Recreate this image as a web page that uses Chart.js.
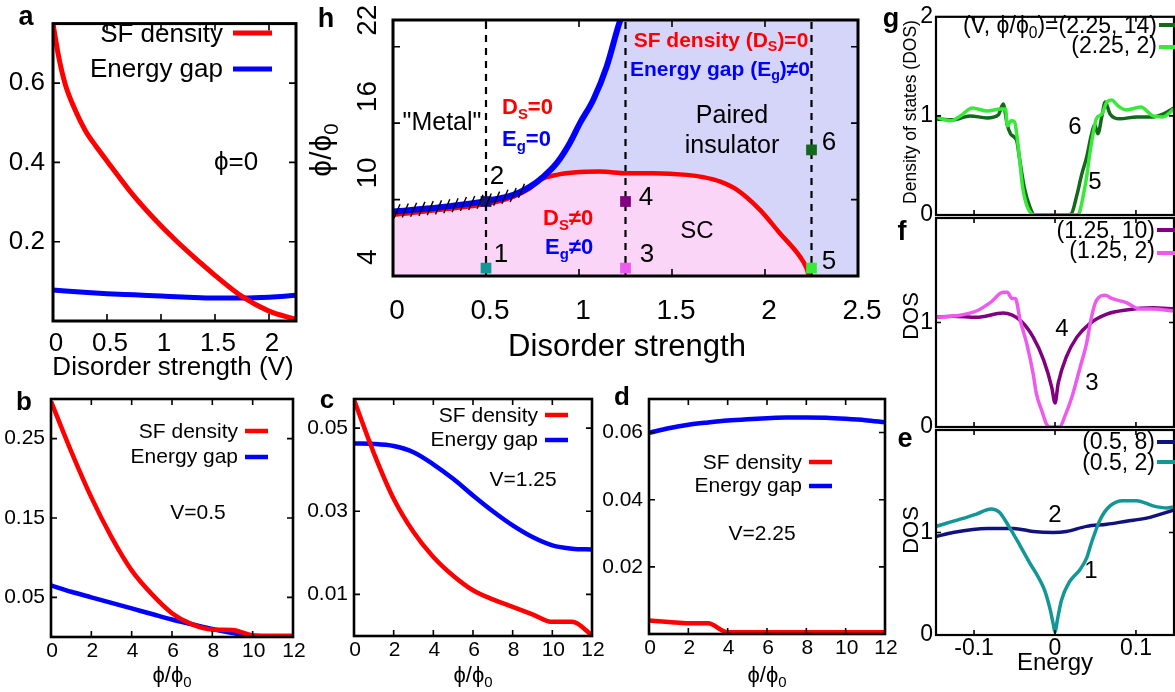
<!DOCTYPE html>
<html><head><meta charset="utf-8">
<script src="https://cdn.jsdelivr.net/npm/chart.js@4.4.1/dist/chart.umd.min.js"></script>
<style>
html,body{margin:0;padding:0;background:#fff;width:1175px;height:692px;overflow:hidden}
#wrap{position:relative;width:1175px;height:692px;background:#fff}
canvas{position:absolute;left:0;top:0}
</style></head>
<body><div id="wrap"></div>
<script>
// ================= DATA =================
// Panel a: phi = 0, vs disorder strength V
const aSFV   = [0, 0.05, 0.11, 0.2, 0.3, 0.4, 0.51, 0.75, 1.0, 1.15, 1.36, 1.5, 1.76, 2.0, 2.25];
const aSF    = [0.75, 0.67, 0.60, 0.535, 0.48, 0.44, 0.40, 0.315, 0.24, 0.20, 0.148, 0.115, 0.06, 0.025, 0.004];
const aGapV  = [0, 0.25, 0.5, 0.75, 1.0, 1.25, 1.5, 1.75, 2.0, 2.25];
const aGap   = [0.078, 0.073, 0.069, 0.066, 0.063, 0.060, 0.058, 0.058, 0.060, 0.065];
const aXTicks = [0, 0.5, 1, 1.5, 2];
const aXLabels = ["0", "0.5", "1", "1.5", "2"];
const aYTicks = [0.2, 0.4, 0.6];
const aYLabels = ["0.2", "0.4", "0.6"];

// Panels b, c, d: vs phi/phi0
const phi = [0, 1, 2, 3, 4, 5, 6, 7, 8, 9, 10, 11, 12];
const bSF  = [0.297, 0.234, 0.176, 0.126, 0.084, 0.054, 0.030, 0.016, 0.0095, 0.0088, 0.002, 0.0012, 0.0012];
const bGap = [0.065, 0.057, 0.050, 0.043, 0.036, 0.029, 0.022, 0.016, 0.010, 0.005, 0.0015, 0.0012, 0.0012];
const cSF  = [0.0568, 0.044, 0.033, 0.025, 0.019, 0.0145, 0.011, 0.0088, 0.007, 0.0052, 0.0034, 0.0034, 0.0002];
const cGap = [0.0463, 0.0462, 0.0457, 0.0442, 0.0413, 0.0378, 0.0338, 0.0300, 0.0266, 0.0238, 0.0218, 0.0210, 0.0208];
const dSF  = [0.0040, 0.0036, 0.0032, 0.0032, 0.0005, 0.0005, 0.0005, 0.0005, 0.0005, 0.0005, 0.0005, 0.0005, 0.0005];
const dGap = [0.0599, 0.0613, 0.0623, 0.0630, 0.0636, 0.0640, 0.0643, 0.0645, 0.0645, 0.0644, 0.0641, 0.0637, 0.0631];
const phiTicks = [0, 2, 4, 6, 8, 10, 12];
const phiLabels = ["0", "2", "4", "6", "8", "10", "12"];
const bYTicks = [0.05, 0.15, 0.25]; const bYLabels = ["0.05", "0.15", "0.25"];
const cYTicks = [0.01, 0.03, 0.05]; const cYLabels = ["0.01", "0.03", "0.05"];
const dYTicks = [0.02, 0.04, 0.06]; const dYLabels = ["0.02", "0.04", "0.06"];

// Panel h: phase diagram
const hBlueV = [0, 0.253, 0.504, 0.647, 0.737, 0.808, 0.88, 0.95, 1.005, 1.077, 1.149, 1.211, 1.222];
const hBlue  = [9.06, 9.4, 9.9, 10.37, 11.02, 11.8, 12.86, 14.43, 16.0, 17.84, 20.45, 23.6, 24.1];
const hRedV  = [0, 0.25, 0.504, 0.647, 0.737, 0.79, 0.88, 0.97, 1.113, 1.256, 1.4, 1.58, 1.668, 1.76, 1.85, 1.973, 2.08, 2.188, 2.224, 2.236];
const hRed   = [8.8, 9.2, 9.66, 10.23, 10.9, 11.55, 11.94, 12.12, 12.2, 12.07, 12.07, 11.94, 11.76, 11.41, 10.76, 9.19, 7.36, 5.52, 4.6, 4.0];
const hCutV  = [0.5, 1.25, 2.25];
const hPtV   = [0.5, 0.5, 1.25, 1.25, 2.25, 2.25];
const hPtPhi = [4.62, 9.85, 4.62, 9.85, 4.62, 13.9];
const hPtLabels = ["1", "2", "3", "4", "5", "6"];
const hXTicks = [0, 0.5, 1, 1.5, 2, 2.5];
const hXLabels = ["0", "0.5", "1", "1.5", "2", "2.5"];
const hYTicks = [4, 10, 16, 22];
const hYLabels = ["4", "10", "16", "22"];

// Panels g, f, e: density of states vs energy
const g6E = [-0.147,-0.126,-0.105,-0.084,-0.070,-0.064,-0.059,-0.055,-0.051,-0.047,-0.044,-0.038,-0.031,-0.025,0.015,0.020,0.027,0.033,0.039,0.045,0.049,0.053,0.058,0.062,0.068,0.080,0.101,0.121,0.134,0.147];
const g6  = [0.97,0.96,1.0,0.98,1.01,1.12,0.91,0.82,0.79,0.74,0.58,0.28,0.08,0,0,0.01,0.2,0.41,0.58,0.81,0.91,0.82,1.0,1.14,1.02,0.97,0.99,0.99,1.02,1.08];
const g5E = [-0.147,-0.129,-0.117,-0.102,-0.084,-0.067,-0.061,-0.059,-0.054,-0.050,-0.047,-0.044,-0.040,-0.034,-0.025,0.027,0.030,0.035,0.039,0.043,0.047,0.051,0.058,0.064,0.070,0.078,0.088,0.106,0.121,0.133,0.147];
const g5  = [0.99,0.95,1.0,1.08,1.05,1.07,1.07,0.9,0.95,0.94,0.8,0.58,0.28,0.08,0,0,0.02,0.2,0.38,0.62,0.82,0.97,1.02,1.14,1.16,1.1,1.06,1.09,1.0,0.99,1.07];
const f4E = [-0.147,-0.126,-0.097,-0.064,-0.043,-0.027,-0.014,-0.004,0,0.004,0.014,0.027,0.043,0.064,0.088,0.121,0.147];
const f4  = [1.05,1.06,1.05,1.09,1.02,0.86,0.64,0.38,0.23,0.42,0.67,0.86,0.99,1.08,1.12,1.14,1.13];
const f3E = [-0.147,-0.117,-0.097,-0.080,-0.064,-0.059,-0.053,-0.049,-0.043,-0.035,-0.027,-0.023,-0.016,-0.010,-0.006,0.006,0.012,0.021,0.031,0.039,0.045,0.051,0.062,0.070,0.088,0.105,0.121,0.147];
const f3  = [1.05,1.07,1.11,1.19,1.29,1.29,1.23,1.23,1.02,0.8,0.51,0.32,0.15,0.02,0,0,0.1,0.29,0.57,0.8,1.05,1.21,1.26,1.23,1.19,1.13,1.13,1.11];
const e2E = [-0.147,-0.126,-0.084,-0.051,-0.027,-0.002,0.014,0.039,0.064,0.088,0.113,0.147];
const e2  = [0.96,1.0,1.04,1.04,1.01,1.0,1.01,1.06,1.08,1.11,1.14,1.22];
const e1E = [-0.147,-0.117,-0.097,-0.079,-0.069,-0.057,-0.043,-0.031,-0.021,-0.013,-0.006,-0.002,0,0.003,0.008,0.018,0.031,0.039,0.045,0.056,0.068,0.084,0.101,0.121,0.138,0.147];
const e1  = [1.06,1.13,1.18,1.23,1.2,1.06,0.87,0.70,0.57,0.44,0.25,0.10,0.03,0.15,0.34,0.52,0.64,0.75,0.9,1.13,1.26,1.31,1.31,1.26,1.24,1.25];
const eXTicks = [-0.1, 0, 0.1];
const eXLabels = ["-0.1", "0", "0.1"];
const dosYTicks = [0, 1, 2];
const dosYLabels = ["0", "1", "2"];

// ================= HELPERS =================
const FONT = '"Liberation Sans", Arial, Helvetica, sans-serif';
const W = 1175, H = 692;
const RED = '#ff0000', BLUE = '#0000ff';
const C1 = '#139696', C2 = '#12127e', C3 = '#ee5aee', C4 = '#800080', C5 = '#3ae83a', C6 = '#13681a';
const PINK = '#fbd5f8', LAV = '#d5d5fa';
const wrap = document.getElementById('wrap');

function pts(xs, ys) { return xs.map((x, i) => ({ x: x, y: ys[i] })); }
function segs(str) {
  const out = []; const re = /_\{([^}]*)\}/g; let last = 0, m;
  while ((m = re.exec(str))) { if (m.index > last) out.push([str.slice(last, m.index), 0]); out.push([m[1], 1]); last = re.lastIndex; }
  if (last < str.length) out.push([str.slice(last), 0]);
  return out;
}
function txt(ctx, str, x, y, o) {
  o = o || {};
  const size = o.size || 20, wt = o.bold ? 'bold ' : '', align = o.align || 'center';
  const parts = segs(str);
  ctx.save(); ctx.translate(x, y); if (o.rot) ctx.rotate(o.rot);
  ctx.fillStyle = o.color || '#000'; ctx.textBaseline = 'middle'; ctx.textAlign = 'left';
  const ws = []; let w = 0;
  parts.forEach(([t, s]) => { ctx.font = wt + (s ? size * 0.68 : size) + 'px ' + FONT; const m = ctx.measureText(t).width; ws.push(m); w += m; });
  let cx = align === 'left' ? 0 : align === 'right' ? -w : -w / 2;
  parts.forEach(([t, s], i) => { ctx.font = wt + (s ? size * 0.68 : size) + 'px ' + FONT; ctx.fillText(t, cx, s ? size * 0.3 : 0); cx += ws[i]; });
  ctx.restore();
}
function ln(ctx, x1, y1, x2, y2, color, w) {
  ctx.save(); ctx.strokeStyle = color; ctx.lineWidth = w; ctx.beginPath(); ctx.moveTo(x1, y1); ctx.lineTo(x2, y2); ctx.stroke(); ctx.restore();
}
function lineDS(data, color, width, extra) {
  return Object.assign({ data: data, borderColor: color, borderWidth: width, pointRadius: 0, fill: false, cubicInterpolationMode: 'monotone' }, extra || {});
}

function panel(opt) {
  const cv = document.createElement('canvas'); cv.width = W; cv.height = H; wrap.appendChild(cv);
  const r = opt.rect;
  const mk = (ax, horiz) => ({
    type: 'linear', min: ax.min, max: ax.max,
    afterBuildTicks: s => { s.ticks = ax.ticks.map(v => ({ value: v })); },
    afterFit: s => { if (horiz) s.height = H - r.b; else s.width = r.l; },
    grid: { display: false, drawTicks: false }, border: { display: false },
    ticks: { display: !!ax.labels, autoSkip: false, maxRotation: 0, minRotation: 0, padding: ax.pad || 0, labelOffset: ax.off || 0, color: '#000',
      font: { family: FONT, size: ax.size || 20 }, callback: (v, i) => ax.labels ? ax.labels[i] : '' }
  });
  const TL = opt.tickLen || 7;
  const drawFrame = (chart) => {
    const ctx = chart.ctx, a = chart.chartArea, xS = chart.scales.x, yS = chart.scales.y;
    ctx.save(); ctx.strokeStyle = '#000'; ctx.lineWidth = 1.6;
    (opt.xMarks || []).forEach(v => { const p = xS.getPixelForValue(v); ctx.beginPath(); ctx.moveTo(p, a.bottom); ctx.lineTo(p, a.bottom - TL); ctx.moveTo(p, a.top); ctx.lineTo(p, a.top + TL); ctx.stroke(); });
    (opt.yMarks || []).forEach(v => { const p = yS.getPixelForValue(v); ctx.beginPath(); ctx.moveTo(a.left, p); ctx.lineTo(a.left + TL, p); ctx.moveTo(a.right, p); ctx.lineTo(a.right - TL, p); ctx.stroke(); });
    ctx.lineWidth = opt.frameW || 2.5; ctx.strokeRect(a.left, a.top, a.right - a.left, a.bottom - a.top);
    ctx.restore();
  };
  new Chart(cv, {
    type: 'line',
    data: { datasets: opt.datasets },
    options: {
      responsive: false, animation: false, devicePixelRatio: 1,
      layout: { padding: { left: 0, top: r.t, right: W - r.r, bottom: 0 } },
      plugins: { legend: { display: false }, tooltip: { enabled: false } },
      scales: { x: mk(opt.x, true), y: mk(opt.y, false) },
      elements: { point: { radius: 0 } }
    },
    plugins: [{
      id: 'deco',
      beforeDatasetDraw(chart, args) { if (opt.frameBefore && args.meta.label === opt.frameBefore) drawFrame(chart); },
      afterDatasetsDraw(chart) { if (!opt.frameBefore) drawFrame(chart); if (opt.extra) opt.extra(chart.ctx, chart); }
    }]
  });
}

// ================= PANEL a =================
panel({
  rect: { l: 53, t: 16, r: 296, b: 321 },
  x: { min: 0, max: 2.25, ticks: aXTicks, labels: aXLabels, size: 26, pad: 7, off: 3 },
  y: { min: 0, max: 0.75, ticks: aYTicks, labels: aYLabels, size: 26, pad: 8 },
  xMarks: [0.5, 1, 1.5, 2], yMarks: aYTicks, frameW: 3,
  datasets: [lineDS(pts(aSFV, aSF), RED, 5), lineDS(pts(aGapV, aGap), BLUE, 5)],
  extra(ctx) {
    txt(ctx, 'a', 26, 18, { size: 27, bold: true });
    txt(ctx, 'SF density', 223, 35, { size: 26, align: 'right' }); ln(ctx, 233, 33, 272, 33, RED, 5);
    txt(ctx, 'Energy gap', 223, 70, { size: 26, align: 'right' }); ln(ctx, 233, 69, 272, 69, BLUE, 5);
    txt(ctx, 'ϕ=0', 236, 163, { size: 26 });
    txt(ctx, 'Disorder strength (V)', 173, 368, { size: 26 });
  }
});

// ================= PANEL b, c, d =================
function phiPanel(letter, letterPos, rect, ymax, yT, yL, sf, gap, leg, vtxt, vpos, titleX) {
  panel({
    rect: rect,
    x: { min: 0, max: 12, ticks: phiTicks, labels: phiLabels, size: 21, pad: 2, off: 1 },
    y: { min: 0, max: ymax, ticks: yT, labels: yL, size: 21, pad: 6 },
    xMarks: [2, 4, 6, 8, 10], yMarks: yT, frameW: 2.6, tickLen: 6,
    datasets: [lineDS(pts(phi, sf), RED, 4.5), lineDS(pts(phi, gap), BLUE, 4.5)],
    extra(ctx) {
      txt(ctx, letter, letterPos[0], letterPos[1], { size: 26, bold: true });
      txt(ctx, 'SF density', leg[0], leg[1], { size: 21, align: 'right' }); ln(ctx, leg[0] + 7, leg[1] - 1, leg[0] + 30, leg[1] - 1, RED, 4.5);
      txt(ctx, 'Energy gap', leg[0], leg[2], { size: 21, align: 'right' }); ln(ctx, leg[0] + 7, leg[2], leg[0] + 30, leg[2], BLUE, 4.5);
      txt(ctx, vtxt, vpos[0], vpos[1], { size: 21 });
      txt(ctx, 'ϕ/ϕ_{0}', titleX, 676, { size: 22 });
    }
  });
}
phiPanel('b', [24, 403], { l: 51, t: 399, r: 293, b: 637 }, 0.3, bYTicks, bYLabels, bSF, bGap, [238, 432, 457], 'V=0.5', [198, 513], 172);
phiPanel('c', [327, 401], { l: 354, t: 399, r: 592, b: 636 }, 0.057, cYTicks, cYLabels, cSF, cGap, [538, 416, 440], 'V=1.25', [523, 480], 473);
phiPanel('d', [622, 398], { l: 649, t: 399, r: 885, b: 634 }, 0.07, dYTicks, dYLabels, dSF, dGap, [802, 463, 486], 'V=2.25', [762, 534], 767);

// ================= PANEL h =================
(function () {
  const redPts = pts(hRedV, hRed);
  const bluePts = pts(hBlueV, hBlue);
  const ds = [];
  ds.push(lineDS(redPts.concat([{ x: 2.5, y: 4 }]), 'rgba(0,0,0,0)', 0, { fill: 'end', backgroundColor: LAV, order: 10 }));
  ds.push(lineDS(redPts, 'rgba(0,0,0,0)', 0, { fill: 'start', backgroundColor: PINK, order: 9 }));
  ds.push(lineDS(bluePts, 'rgba(0,0,0,0)', 0, { fill: 'end', backgroundColor: '#ffffff', order: 8 }));
  hCutV.forEach(v => ds.push(lineDS([{ x: v, y: 4 }, { x: v, y: 24.1 }], '#000', 2.2, { borderDash: [7, 6], order: 5, cubicInterpolationMode: 'default', tension: 0 })));
  ds.push(lineDS(redPts, RED, 4.5, { order: 3 }));
  ds.push(lineDS(bluePts, BLUE, 6, { order: 2 }));
  ds.push({ label: 'pts', data: pts(hPtV, hPtPhi), showLine: false, pointStyle: 'rect', pointRadius: 7.6, pointBorderWidth: 0,
    pointBackgroundColor: [C1, C2, C3, C4, C5, C6], pointBorderColor: [C1, C2, C3, C4, C5, C6], order: 0, clip: false });
  panel({
    rect: { l: 393, t: 20, r: 858, b: 276 },
    x: { min: 0, max: 2.5, ticks: hXTicks, labels: hXLabels, size: 28, pad: 18, off: 4 },
    y: { min: 4, max: 24.1, ticks: hYTicks, labels: null, size: 28 },
    xMarks: [0.5, 1, 1.5, 2], yMarks: [10, 16, 22], frameW: 3, frameBefore: 'pts',
    datasets: ds,
    extra(ctx, chart) {
      const xS = chart.scales.x, yS = chart.scales.y;
      // hatch marks along the blue boundary in the low-disorder region
      const bp = bluePts.map(p => [xS.getPixelForValue(p.x), yS.getPixelForValue(p.y)]);
      ctx.save(); ctx.strokeStyle = '#000'; ctx.lineWidth = 1.4;
      for (let px = bp[0][0] + 4; px < 524; px += 8.3) {
        let k = 0; while (k < bp.length - 2 && bp[k + 1][0] < px) k++;
        const t = (px - bp[k][0]) / (bp[k + 1][0] - bp[k][0]);
        const py = bp[k][1] + t * (bp[k + 1][1] - bp[k][1]);
        ctx.beginPath(); ctx.moveTo(px - 3, py + 7); ctx.lineTo(px + 3, py - 7); ctx.stroke();
      }
      ctx.restore();
      // rotated y tick labels
      hYTicks.forEach((v, i) => { txt(ctx, hYLabels[i], 368, yS.getPixelForValue(v) - 11, { size: 28, rot: -Math.PI / 2, align: 'left' }); });
      txt(ctx, 'ϕ/ϕ_{0}', 323, 150, { size: 30, rot: -Math.PI / 2 });
      txt(ctx, 'Disorder strength', 627, 347, { size: 31 });
      txt(ctx, 'h', 326, 20, { size: 27, bold: true });
      // point labels
      const lp = [[501, 255], [497, 177], [647, 255], [646, 198], [829, 262], [829, 143]];
      hPtLabels.forEach((s, i) => txt(ctx, s, lp[i][0], lp[i][1], { size: 26 }));
      txt(ctx, '"Metal"', 442, 123, { size: 25 });
      txt(ctx, 'D_{S}=0', 502, 108, { size: 22, bold: true, color: RED, align: 'left' });
      txt(ctx, 'E_{g}=0', 502, 140, { size: 22, bold: true, color: BLUE, align: 'left' });
      txt(ctx, 'D_{S}≠0', 543, 219, { size: 22, bold: true, color: RED, align: 'left' });
      txt(ctx, 'E_{g}≠0', 545, 248, { size: 22, bold: true, color: BLUE, align: 'left' });
      txt(ctx, 'SC', 697, 231, { size: 24 });
      txt(ctx, 'Paired', 732, 116, { size: 25 });
      txt(ctx, 'insulator', 732, 146, { size: 25 });
      txt(ctx, 'SF density (D_{S})=0', 721, 41, { size: 21, bold: true, color: RED });
      txt(ctx, 'Energy gap (E_{g})≠0', 720, 70, { size: 21, bold: true, color: BLUE });
    }
  });
})();

// ================= PANELS g, f, e =================
function dosPanel(rect, curves, showX, yT, yL, extra) {
  panel({
    rect: rect,
    x: { min: -0.147, max: 0.147, ticks: eXTicks, labels: showX ? eXLabels : null, size: 23, pad: 0 },
    y: { min: 0, max: 2, ticks: yT, labels: yL, size: 23, pad: 3 },
    xMarks: eXTicks, yMarks: [1], frameW: 2.2, tickLen: 5,
    datasets: curves.map(c => lineDS(pts(c[0], c[1]), c[2], 3.5)),
    extra: extra
  });
}
dosPanel({ l: 936, t: 13, r: 1174, b: 215 }, [[g5E, g5, C5], [g6E, g6, C6]], false, dosYTicks, dosYLabels, (ctx) => {
  txt(ctx, 'g', 891, 20, { size: 27, bold: true });
  txt(ctx, 'Density of states (DOS)', 911, 112, { size: 17.5, rot: -Math.PI / 2 });
  txt(ctx, '(V, ϕ/ϕ_{0})=(2.25, 14)', 1157, 27, { size: 23, align: 'right' }); ln(ctx, 1159, 25, 1175, 25, C6, 4);
  txt(ctx, '(2.25, 2)', 1157, 47, { size: 23, align: 'right' }); ln(ctx, 1159, 47, 1175, 47, C5, 4);
  txt(ctx, '6', 1075, 127, { size: 24 });
  txt(ctx, '5', 1095, 182, { size: 24 });
});
dosPanel({ l: 936, t: 218, r: 1174, b: 427 }, [[f3E, f3, C3], [f4E, f4, C4]], false, [0, 1], ["0", "1"], (ctx) => {
  txt(ctx, 'f', 902, 233, { size: 27, bold: true });
  txt(ctx, 'DOS', 912, 316, { size: 22, rot: -Math.PI / 2 });
  txt(ctx, '(1.25, 10)', 1155, 232, { size: 23, align: 'right' }); ln(ctx, 1157, 230, 1175, 230, C4, 4);
  txt(ctx, '(1.25, 2)', 1155, 252, { size: 23, align: 'right' }); ln(ctx, 1157, 253, 1175, 253, C3, 4);
  txt(ctx, '4', 1062, 329, { size: 24 });
  txt(ctx, '3', 1092, 383, { size: 24 });
});
dosPanel({ l: 936, t: 430, r: 1174, b: 635 }, [[e1E, e1, C1], [e2E, e2, C2]], true, [0, 1], ["0", "1"], (ctx) => {
  txt(ctx, 'e', 905, 440, { size: 27, bold: true });
  txt(ctx, 'DOS', 912, 530, { size: 22, rot: -Math.PI / 2 });
  txt(ctx, 'Energy', 1055, 663, { size: 24 });
  txt(ctx, '(0.5, 8)', 1155, 443, { size: 23, align: 'right' }); ln(ctx, 1157, 442, 1175, 442, C2, 4);
  txt(ctx, '(0.5, 2)', 1155, 464, { size: 23, align: 'right' }); ln(ctx, 1157, 462, 1175, 462, C1, 4);
  txt(ctx, '2', 1055, 515, { size: 24 });
  txt(ctx, '1', 1091, 571, { size: 24 });
});
</script>
</body></html>
